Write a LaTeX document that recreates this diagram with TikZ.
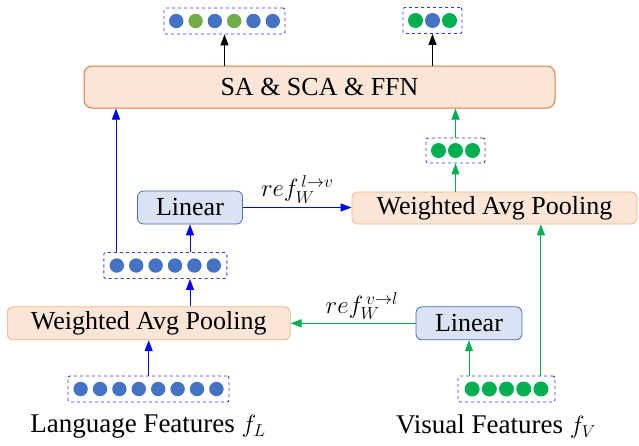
\documentclass[tikz,border=0pt]{standalone}
\usepackage{fontspec}
\setmainfont{Liberation Serif}
\usetikzlibrary{arrows.meta}

\definecolor{tokblue}{HTML}{4472C4}
\definecolor{tokgreen}{HTML}{70AD47}
\definecolor{visgreen}{HTML}{00B050}
\definecolor{poolfill}{HTML}{FBE5D6}
\definecolor{poolline}{HTML}{F4B183}
\definecolor{saline}{HTML}{E07B39}
\definecolor{linfill}{HTML}{DAE3F3}
\definecolor{linline}{HTML}{4A6DAE}
\definecolor{tokline}{HTML}{3333FF}

\begin{document}
\begin{tikzpicture}[x=1pt, y=-1pt,
    txt/.style={font=\fontsize{26}{30}\selectfont, inner sep=0pt},
    poolbox/.style={txt, draw=poolline, fill=poolfill, rounded corners=6pt, line width=0.8pt},
    linbox/.style={txt, draw=linline, fill=linfill, rounded corners=6pt, line width=0.8pt},
    tokbox/.style={draw=tokline, dashed, rounded corners=2pt, line width=0.9pt, inner sep=0pt},
    tip/.style={-{Triangle[length=11pt,width=8pt]}, line width=1pt},
    bluearr/.style={tip, blue},
    greenarr/.style={tip, visgreen},
    blackarr/.style={tip, black},
    reflabel/.style={font=\fontsize{26}{30}\selectfont, text=black, inner sep=1pt}]

    \useasboundingbox (0,0) rectangle (639,445);

    % Transformer block
    \node[txt, draw=saline, fill=poolfill, rounded corners=8pt, line width=1pt,
          minimum width=471, minimum height=42] (sa) at (319.5,87) {SA \& SCA \& FFN};

    % Pooling and projection boxes
    \node[poolbox, minimum width=283, minimum height=33] (wapL) at (148.7,323.3) {Weighted Avg Pooling};
    \node[poolbox, minimum width=285, minimum height=32] (wapR) at (494.5,208) {Weighted Avg Pooling};
    \node[linbox, minimum width=105, minimum height=33] (linL) at (190,207.5) {Linear};
    \node[linbox, minimum width=106, minimum height=33] (linR) at (469,323.3) {Linear};

    % Token boxes
    \node[tokbox, minimum width=121, minimum height=26] (outL) at (224.5,21) {};
    \node[tokbox, minimum width=59, minimum height=26] (outR) at (432.5,20.5) {};
    \node[tokbox, minimum width=59, minimum height=25] (midR) at (455.5,150.5) {};
    \node[tokbox, minimum width=123, minimum height=26] (midL) at (165.3,265.5) {};
    \node[tokbox, minimum width=161, minimum height=26] (langtok) at (148.5,389) {};
    \node[tokbox, minimum width=97, minimum height=26] (vistok) at (506.5,389) {};

    % Dots in the token boxes
    \foreach \c [count=\i] in {tokblue,tokgreen,tokblue,tokgreen,tokblue,tokblue}
        \fill[\c] ([xshift=(\i-3.5)*19.3pt]outL.center) circle (7.2);
    \foreach \c [count=\i] in {visgreen,tokblue,visgreen}
        \fill[\c] ([xshift=(\i-2)*17pt]outR.center) circle (7.5);
    \foreach \i in {1,...,3}
        \fill[visgreen] ([xshift=(\i-2)*17pt]midR.center) circle (7.5);
    \foreach \i in {1,...,6}
        \fill[tokblue] ([xshift=(\i-3.5)*19.4pt]midL.center) circle (7.2);
    \foreach \i in {1,...,8}
        \fill[tokblue] ([xshift=(\i-4.5)*19.4pt]langtok.center) circle (7.2);
    \foreach \i in {1,...,5}
        \fill[visgreen] ([xshift=(\i-3)*17.2pt]vistok.center) circle (7.5);

    % Language branch
    \draw[bluearr] (langtok.north -| wapL.south) -- (wapL.south);
    \draw[bluearr] (wapL.north -| linL.south) -- (midL.south -| linL.south);
    \draw[bluearr] (midL.north -| linL.south) -- (linL.south);
    \draw[bluearr] ([xshift=-49.3pt]midL.north) -- ([xshift=-49.3pt]midL.north |- sa.south);
    \draw[bluearr] (linL.east) -- (linL.east -| wapR.west)
        node[reflabel, midway, above=3pt] {$ref_W^{\,l\rightarrow v}$};

    % Visual branch
    \draw[greenarr] (vistok.north -| linR.south) -- (linR.south);
    \draw[greenarr] ([xshift=34.4pt]vistok.north) -- ([xshift=34.4pt]vistok.north |- wapR.south);
    \draw[greenarr] (linR.west) -- (linR.west -| wapL.east)
        node[reflabel, pos=0.43, above=2pt] {$ref_W^{\,v\rightarrow l}$};
    \draw[greenarr] (wapR.north -| midR.south) -- (midR.south);
    \draw[greenarr] (midR.north) -- (midR.north |- sa.south);

    % Outputs
    \draw[blackarr] (outL.south |- sa.north) -- (outL.south);
    \draw[blackarr] (outR.south |- sa.north) -- (outR.south);

    % Captions
    \node[txt, font=\fontsize{27}{30}\selectfont] (langcap) at (148,427) {Language Features $f_L$};
    \node[txt, font=\fontsize{27}{30}\selectfont] (viscap) at (496,427) {Visual Features $f_V$};
\end{tikzpicture}
\end{document}
